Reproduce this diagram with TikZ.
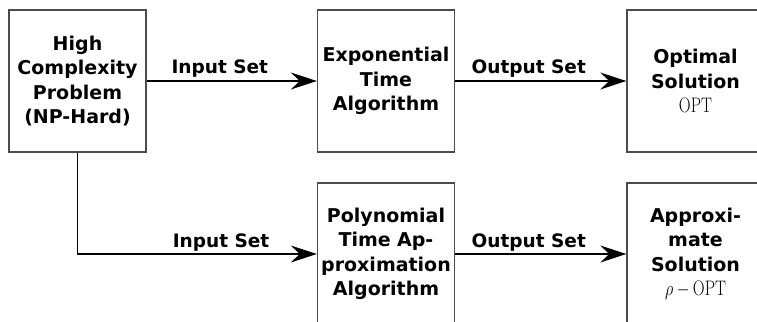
\documentclass[tikz,border=0pt]{standalone}
\usepackage{fontspec}
\usepackage{graphicx}
\setmainfont{DejaVu Sans}
\newfontfamily\serifopt{Latin Modern Roman}
\usetikzlibrary{arrows.meta}
% narrow serif label for the OPT values
\newcommand{\optval}[1]{{\normalfont\serifopt\fontsize{21}{24}\selectfont\scalebox{0.78}[1]{#1}}}
\begin{document}
\begin{tikzpicture}[x=1pt,y=-1pt,
  box/.style={draw=black!70,line width=1.4pt,minimum width=137pt,minimum height=142pt,
    inner sep=0pt,align=center,text width=135pt,
    font=\fontsize{19}{24.5}\selectfont\bfseries},
  link/.style={line width=1.2pt,-{Stealth[length=26pt,width=17pt,inset=9pt]}},
  lbl/.style={anchor=base,yshift=7pt,inner sep=0pt,font=\fontsize{18.5}{22}\selectfont\bfseries}]
\useasboundingbox (0,0) rectangle (757,321);
\clip (0,0) rectangle (757,321);
\node[box] (hard) at (77.5,81) {High\\Complexity\\Problem\\(NP-Hard)};
\node[box] (exact) at (386,81) {Exponential\\Time\\Algorithm};
\node[box] (optimal) at (695.5,81) {Optimal\\Solution\\\optval{OPT}};
\node[box] (approx) at (386,254) {Polynomial\\Time Ap-\\proximation\\Algorithm};
\node[box] (near) at (695.5,254) {Approxi-\\mate\\Solution\\\optval{$\rho-{}$OPT}};
\draw[link] (hard) -- node[lbl,pos=0.43] {Input Set} (exact);
\draw[link] (exact) -- node[lbl,pos=0.43] {Output Set} (optimal);
\draw[link] (hard.south) |- node[lbl,pos=0.80] {Input Set} (approx.west);
\draw[link] (approx) -- node[lbl,pos=0.43] {Output Set} (near);
\end{tikzpicture}
\end{document}
